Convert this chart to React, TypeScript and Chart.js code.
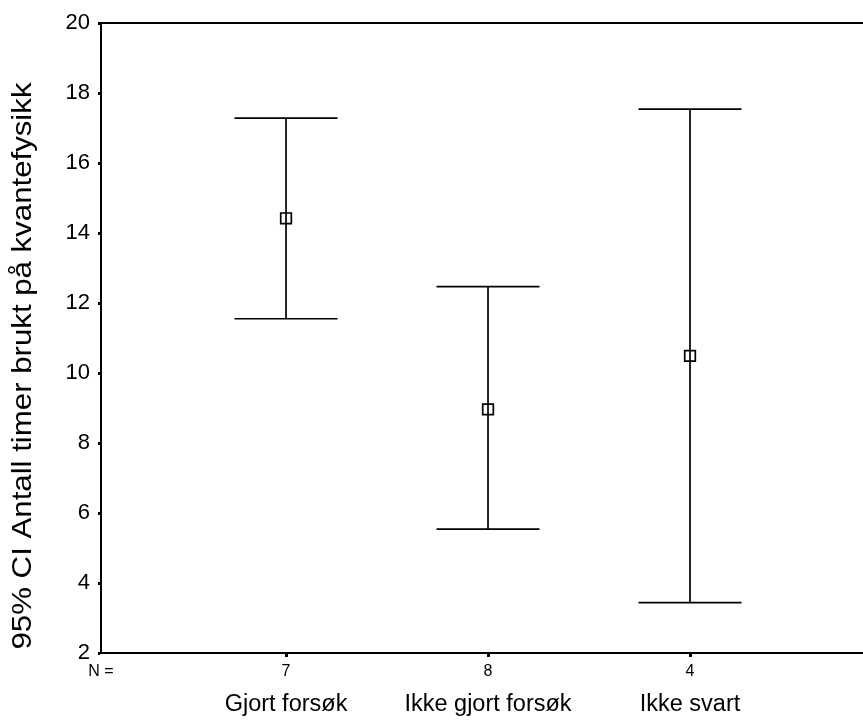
import React, { useEffect, useRef } from "react";
import { Chart, registerables } from "chart.js";

Chart.register(...registerables);

const categories = ["Gjort forsøk", "Ikke gjort forsøk", "Ikke svart"];
const nValues = [7, 8, 4];
const means = [14.42, 8.96, 10.49];
const lower = [11.55, 5.54, 3.44];
const upper = [17.28, 12.47, 17.54];
const yTicks = [2, 4, 6, 8, 10, 12, 14, 16, 18, 20];
const yTitle = "95% CI Antall timer brukt på kvantefysikk";

const FONT = "'Liberation Sans', Arial, sans-serif";

const errorBarPlugin = {
  id: "errorBars",
  afterDatasetsDraw(chart: any) {
    const { ctx, chartArea, scales } = chart;
    const xs = scales.x;
    const ys = scales.y;
    ctx.save();
    ctx.strokeStyle = "#000";
    ctx.lineWidth = 1.7;
    const capHalf = 0.255;
    for (let i = 0; i < means.length; i++) {
      const xv = i + 1;
      const px = xs.getPixelForValue(xv);
      const pl = ys.getPixelForValue(lower[i]);
      const pu = ys.getPixelForValue(upper[i]);
      const cl = xs.getPixelForValue(xv - capHalf);
      const cr = xs.getPixelForValue(xv + capHalf);
      ctx.beginPath();
      ctx.moveTo(px, pu);
      ctx.lineTo(px, pl);
      ctx.moveTo(cl, pu);
      ctx.lineTo(cr, pu);
      ctx.moveTo(cl, pl);
      ctx.lineTo(cr, pl);
      ctx.stroke();
    }
    // top border
    ctx.lineWidth = 2;
    ctx.beginPath();
    ctx.moveTo(chartArea.left, chartArea.top);
    ctx.lineTo(chartArea.right + 20, chartArea.top);
    ctx.stroke();
    ctx.restore();
  },
  afterDraw(chart: any) {
    const { ctx, scales } = chart;
    const xs = scales.x;
    ctx.save();
    ctx.fillStyle = "#000";
    ctx.textAlign = "center";
    ctx.textBaseline = "middle";
    ctx.font = `16px ${FONT}`;
    ctx.fillText("N =", 101, 672);
    for (let i = 0; i < nValues.length; i++) {
      ctx.fillText(String(nValues[i]), xs.getPixelForValue(i + 1), 672);
    }
    ctx.font = `23.5px ${FONT}`;
    for (let i = 0; i < categories.length; i++) {
      ctx.fillText(categories[i], xs.getPixelForValue(i + 1), 705);
    }
    ctx.translate(23, 366);
    ctx.rotate(-Math.PI / 2);
    ctx.font = `28px ${FONT}`;
    const w = ctx.measureText(yTitle).width;
    ctx.scale(567 / w, 1);
    ctx.fillText(yTitle, 0, 0);
    ctx.restore();
  },
};

export default function App() {
  const ref = useRef<HTMLCanvasElement>(null);
  useEffect(() => {
    if (!ref.current) return;
    const chart = new Chart(ref.current, {
      type: "scatter",
      data: {
        datasets: [
          {
            data: means.map((m, i) => ({ x: i + 1, y: m })),
            pointStyle: "rect",
            pointRadius: 7.5,
            pointBorderColor: "#000",
            pointBackgroundColor: "#fff",
            pointBorderWidth: 1.7,
            showLine: false,
          },
        ],
      },
      plugins: [errorBarPlugin],
      options: {
        animation: false,
        responsive: false,
        devicePixelRatio: 1,
        layout: { padding: { top: 23, left: 0, right: 0, bottom: 0 } },
        plugins: {
          legend: { display: false },
          tooltip: { enabled: false },
        },
        scales: {
          x: {
            type: "linear",
            min: 0.084,
            max: 3.895,
            afterFit: (s: any) => {
              s.height = 67;
            },
            afterBuildTicks: (s: any) => {
              s.ticks = [1, 2, 3].map((v) => ({ value: v }));
            },
            ticks: { display: false },
            grid: {
              drawOnChartArea: false,
              drawTicks: true,
              tickLength: 4,
              tickWidth: 3,
              color: "#000",
            },
            border: { display: true, color: "#000", width: 2 },
          },
          y: {
            type: "linear",
            min: 2,
            max: 20,
            afterFit: (s: any) => {
              s.width = 101;
            },
            afterBuildTicks: (s: any) => {
              s.ticks = yTicks.map((v) => ({ value: v }));
            },
            ticks: {
              color: "#000",
              font: { family: FONT, size: 22 },
              padding: 8,
            },
            grid: {
              drawOnChartArea: false,
              drawTicks: true,
              tickLength: 3,
              tickWidth: 3,
              color: "#000",
            },
            border: { display: true, color: "#000", width: 2 },
          },
        },
      },
    });
    return () => chart.destroy();
  }, []);
  return (
    <div
      style={{
        position: "fixed",
        left: 0,
        top: 0,
        width: 863,
        height: 720,
        overflow: "hidden",
        background: "#fff",
      }}
    >
      <canvas ref={ref} width={880} height={720} style={{ display: "block" }} />
    </div>
  );
}
